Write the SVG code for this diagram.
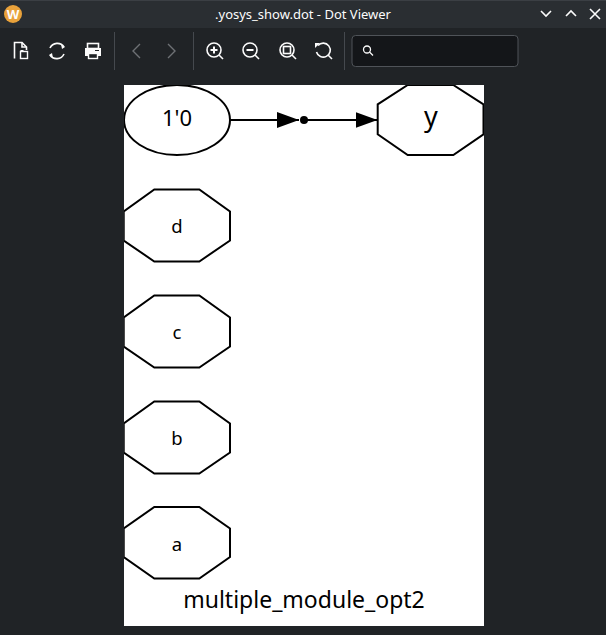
<svg xmlns="http://www.w3.org/2000/svg" width="606" height="635" viewBox="0 0 606 635">
<style>
.ui{font-family:"Noto Sans","DejaVu Sans",sans-serif;fill:#fcfcfc}
.g{font-family:"Noto Sans","Open Sans",sans-serif;fill:#000;text-anchor:middle}
.node{fill:#fff;stroke:#000;stroke-width:2}
.ic{fill:none;stroke:#fcfcfc;stroke-width:1.6}
.icd{fill:none;stroke:#6e7175;stroke-width:1.4}
.sep{stroke:#45494e;stroke-width:1}
.edge{stroke:#000;stroke-width:2;fill:none}
</style>
<defs>
<marker id="ah" viewBox="0 0 22 16" refX="22" refY="8" markerWidth="22" markerHeight="16" markerUnits="userSpaceOnUse" orient="auto">
<path d="M0,0 L22,8 L0,16 z" fill="#000"/>
</marker>
</defs>
<!-- window chrome -->
<rect x="0" y="0" width="606" height="635" fill="#202326"/>
<rect x="0" y="0" width="606" height="28" fill="#2a2e32"/>
<line x1="0" y1="0.5" x2="606" y2="0.5" stroke="#3b3f44"/>
<g id="logo">
<circle cx="13" cy="14" r="9" fill="#e9a23b"/>
<text x="13" y="19" class="ui" font-size="13" font-weight="bold" text-anchor="middle">W</text>
</g>
<text x="303" y="19" class="ui" font-size="13" text-anchor="middle">.yosys_show.dot - Dot Viewer</text>
<g id="winbtns" class="ic" stroke-width="1.3">
<path d="M541,11 L546,16 L551,11"/>
<path d="M566,16 L571,11 L576,16"/>
<path d="M590,9 L600,19 M600,9 L590,19"/>
</g>
<g id="toolbar">
<path class="ic" d="M14.5,58.5 V42.5 H22 L26.5,47 V50" />
<path class="ic" d="M22,42.5 V47 H26.5"/>
<rect x="20.5" y="51.5" width="7" height="7" fill="none" stroke="#fcfcfc" stroke-width="1.4"/>
<path d="M20.5,51.5 h3 v-1.5 h-3z" fill="#fcfcfc"/>
<path class="ic" d="M50,48 A8,8 0 0 1 64,47"/>
<path class="ic" d="M64,54 A8,8 0 0 1 50,55"/>
<path d="M61,44 L65,47 L62,49z M53,58 L49,55 L52,53z" fill="#fcfcfc"/>
<rect x="87.5" y="43.5" width="11" height="5" class="ic"/>
<rect x="85" y="48" width="16" height="8" fill="#fcfcfc"/>
<rect x="88.5" y="53.5" width="9" height="5" fill="#202326" stroke="#fcfcfc" stroke-width="1.4"/>
<line x1="95" y1="50.5" x2="99" y2="50.5" stroke="#202326" stroke-width="1"/>
<line x1="114.5" y1="32" x2="114.5" y2="70" class="sep"/>
<path class="icd" d="M140,44 L133,51 L140,58"/>
<path class="icd" d="M168,44 L175,51 L168,58"/>
<line x1="193.5" y1="32" x2="193.5" y2="70" class="sep"/>
<circle cx="214" cy="50" r="7" class="ic"/>
<line x1="219" y1="55" x2="223" y2="59" class="ic" stroke-width="2"/>
<path d="M210.5,50 h7 M214,46.5 v7" stroke="#fcfcfc" stroke-width="2"/>
<circle cx="250" cy="50" r="7" class="ic"/>
<line x1="255" y1="55" x2="259" y2="59" class="ic" stroke-width="2"/>
<path d="M246.5,50 h7" stroke="#fcfcfc" stroke-width="2"/>
<circle cx="287" cy="50" r="7" class="ic"/>
<line x1="292" y1="55" x2="296" y2="59" class="ic" stroke-width="2"/>
<rect x="283.5" y="46.5" width="7" height="7" class="ic" stroke-width="1.4"/>
<path class="ic" d="M318,45.5 A7,7 0 1 1 316.5,52"/>
<path d="M315,43 L320,43 L315,48z" fill="#fcfcfc"/>
<line x1="328" y1="55" x2="332" y2="59" class="ic" stroke-width="2"/>
<line x1="344.5" y1="32" x2="344.5" y2="70" class="sep"/>
<rect x="352" y="35.5" width="166" height="31" rx="3.5" fill="#141619" stroke="#4f5358" stroke-width="1"/>
<circle cx="367" cy="49.5" r="3.5" fill="none" stroke="#fcfcfc" stroke-width="1.3"/>
<line x1="369.5" y1="52" x2="373" y2="55.5" stroke="#fcfcfc" stroke-width="1.3"/>
</g>
<!-- canvas -->
<rect x="124" y="85" width="360" height="541" fill="#fff"/>
<svg x="124" y="85" width="360" height="541" viewBox="124 85 360 541" overflow="hidden">
<g id="connectors">
<line x1="230" y1="120" x2="299" y2="120" class="edge" marker-end="url(#ah)"/>
<line x1="304" y1="120" x2="377.5" y2="120" class="edge" marker-end="url(#ah)"/>
</g>
<g id="n_1_0">
<ellipse cx="177" cy="120" rx="53" ry="35" class="node"/>
<text x="177" y="126" class="g" font-size="22">1'0</text>
</g>
<g id="n_dot">
<circle cx="304" cy="120" r="4" fill="#000"/>
</g>
<g id="n_y">
<polygon class="node" points="407.7,85 453.3,85 483.5,104.3 483.5,134.3 453.3,155 407.7,155 377.7,134.3 377.7,104.3"/>
<text x="431" y="125.5" class="g" font-size="27">y</text>
</g>
<g id="n_d">
<polygon class="node" points="154.3,189.5 199.3,189.5 230,211.5 230,240.5 199.3,261.5 154.3,261.5 123.7,240.5 123.7,211.5"/>
<text x="177" y="233" class="g" font-size="18.5">d</text>
</g>
<g id="n_c">
<polygon class="node" points="154.3,295.5 199.3,295.5 230,317.5 230,346.5 199.3,367.5 154.3,367.5 123.7,346.5 123.7,317.5"/>
<text x="177" y="339" class="g" font-size="18.5">c</text>
</g>
<g id="n_b">
<polygon class="node" points="154.3,401.5 199.3,401.5 230,423.5 230,452.5 199.3,473.5 154.3,473.5 123.7,452.5 123.7,423.5"/>
<text x="177" y="445" class="g" font-size="18.5">b</text>
</g>
<g id="n_a">
<polygon class="node" points="154.3,507 199.3,507 230,528.5 230,557 199.3,578.5 154.3,578.5 123.7,557 123.7,528.5"/>
<text x="177" y="550.5" class="g" font-size="18.5">a</text>
</g>
<text x="304" y="608" class="g" font-size="23">multiple_module_opt2</text>
</svg>
</svg>
